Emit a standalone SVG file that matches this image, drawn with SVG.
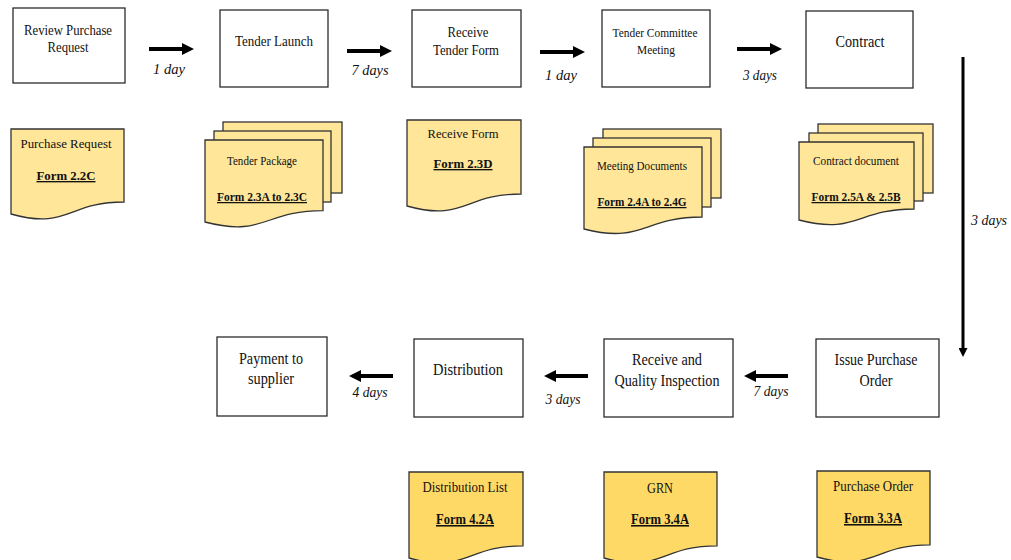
<svg xmlns="http://www.w3.org/2000/svg" width="1011" height="560" viewBox="0 0 1011 560">
  <defs>
    <style>
      .box { fill: #ffffff; stroke: #2b2b2b; stroke-width: 1.3; }
      .doc { fill: #ffe699; stroke: #333333; stroke-width: 1.3; }
      .doc2 { fill: #ffd966; stroke: #333333; stroke-width: 1.3; }
      text { font-family: "Liberation Serif", "Times New Roman", serif; fill: #111111; text-anchor: middle; }
      .s12 { font-size: 12.5px; }
      .s13 { font-size: 13.5px; }
      .s14 { font-size: 14.5px; }
      .s15 { font-size: 15.5px; }
      .s17 { font-size: 17px; }
      .b { font-weight: bold; text-decoration: underline; }
      .lbl { font-size: 15px; font-style: italic; }
      .shaft { stroke: #000000; stroke-width: 4; }
      .vline { stroke: #000000; stroke-width: 3; }
    </style>
    <marker id="head" viewBox="0 0 10 10" refX="0" refY="5" markerWidth="3" markerHeight="3" orient="auto" markerUnits="strokeWidth">
      <path d="M0,0 L10,5 L0,10 Z" fill="#000000"/>
    </marker>
  </defs>

  <!-- Top row: process steps -->
  <g id="review-purchase-request">
    <rect class="box" x="13" y="8" width="112" height="75"/>
    <text class="s14" x="68" y="35" textLength="88" lengthAdjust="spacingAndGlyphs">Review Purchase</text>
    <text class="s14" x="68" y="52" textLength="41" lengthAdjust="spacingAndGlyphs">Request</text>
  </g>
  <g id="tender-launch">
    <rect class="box" x="220" y="10" width="108" height="77"/>
    <text class="s15" x="274" y="46" textLength="78" lengthAdjust="spacingAndGlyphs">Tender Launch</text>
  </g>
  <g id="receive-tender-form">
    <rect class="box" x="412" y="10" width="109" height="77"/>
    <text class="s14" x="468" y="37" textLength="41" lengthAdjust="spacingAndGlyphs">Receive</text>
    <text class="s14" x="466" y="55" textLength="66" lengthAdjust="spacingAndGlyphs">Tender Form</text>
  </g>
  <g id="tender-committee-meeting">
    <rect class="box" x="602" y="10" width="108" height="77"/>
    <text class="s12" x="655" y="37" textLength="85" lengthAdjust="spacingAndGlyphs">Tender Committee</text>
    <text class="s12" x="656" y="54" textLength="38" lengthAdjust="spacingAndGlyphs">Meeting</text>
  </g>
  <g id="contract">
    <rect class="box" x="806" y="11" width="107" height="77"/>
    <text class="s17" x="860" y="47" textLength="49" lengthAdjust="spacingAndGlyphs">Contract</text>
  </g>

  <!-- Top row: documents -->
  <g id="doc-purchase-request">
    <path class="doc" d="M11,129 H124 V202 C67.5,202 67.5,230 11,214 Z"/>
    <text class="s13" x="66" y="148" textLength="91" lengthAdjust="spacingAndGlyphs">Purchase Request</text>
    <text class="s13 b" x="66" y="180" textLength="59" lengthAdjust="spacingAndGlyphs">Form 2.2C</text>
  </g>
  <g id="doc-tender-package">
    <rect class="doc" x="223" y="122" width="119" height="71"/>
    <rect class="doc" x="214" y="131" width="117" height="71"/>
    <path class="doc" d="M205,140 H323 V210.6 C264,210.6 264,237.5 205,222 Z"/>
    <text class="s12" x="262" y="165" textLength="70" lengthAdjust="spacingAndGlyphs">Tender Package</text>
    <text class="s12 b" x="262" y="201" textLength="90" lengthAdjust="spacingAndGlyphs">Form 2.3A to 2.3C</text>
  </g>
  <g id="doc-receive-form">
    <path class="doc" d="M407,120 H521 V194 C464,194 464,222 407,206 Z"/>
    <text class="s13" x="463" y="138" textLength="71" lengthAdjust="spacingAndGlyphs">Receive Form</text>
    <text class="s13 b" x="463" y="168" textLength="59" lengthAdjust="spacingAndGlyphs">Form 2.3D</text>
  </g>
  <g id="doc-meeting-documents">
    <rect class="doc" x="603" y="129" width="118" height="69"/>
    <rect class="doc" x="593" y="138" width="118" height="69"/>
    <path class="doc" d="M584,147 H702 V217 C643,217 643,244 584,229 Z"/>
    <text class="s12" x="642" y="170" textLength="90" lengthAdjust="spacingAndGlyphs">Meeting Documents</text>
    <text class="s12 b" x="642" y="206" textLength="89" lengthAdjust="spacingAndGlyphs">Form 2.4A to 2.4G</text>
  </g>
  <g id="doc-contract-document">
    <rect class="doc" x="818" y="124" width="115" height="69"/>
    <rect class="doc" x="809" y="133" width="114" height="68"/>
    <path class="doc" d="M799,142 H914 V209 C856.5,209 856.5,235 799,220 Z"/>
    <text class="s12" x="856" y="165" textLength="86" lengthAdjust="spacingAndGlyphs">Contract document</text>
    <text class="s12 b" x="856" y="201" textLength="89" lengthAdjust="spacingAndGlyphs">Form 2.5A &amp; 2.5B</text>
  </g>

  <!-- Bottom row: process steps -->
  <g id="payment-to-supplier">
    <rect class="box" x="217" y="337" width="110" height="79"/>
    <text class="s17" x="271" y="364" textLength="64" lengthAdjust="spacingAndGlyphs">Payment to</text>
    <text class="s17" x="271" y="384" textLength="46" lengthAdjust="spacingAndGlyphs">supplier</text>
  </g>
  <g id="distribution">
    <rect class="box" x="414" y="339" width="109" height="78"/>
    <text class="s17" x="468" y="375" textLength="70" lengthAdjust="spacingAndGlyphs">Distribution</text>
  </g>
  <g id="receive-quality-inspection">
    <rect class="box" x="604" y="339" width="129" height="78"/>
    <text class="s17" x="667" y="365" textLength="70" lengthAdjust="spacingAndGlyphs">Receive and</text>
    <text class="s17" x="667" y="386" textLength="105" lengthAdjust="spacingAndGlyphs">Quality Inspection</text>
  </g>
  <g id="issue-purchase-order">
    <rect class="box" x="816" y="339" width="123" height="78"/>
    <text class="s17" x="876" y="365" textLength="83" lengthAdjust="spacingAndGlyphs">Issue Purchase</text>
    <text class="s17" x="876" y="386" textLength="33" lengthAdjust="spacingAndGlyphs">Order</text>
  </g>

  <!-- Bottom row: documents -->
  <g id="doc-distribution-list">
    <path class="doc2" d="M409,472 H523 V545.8 C466,545.8 466,573.9 409,558 Z"/>
    <text class="s15" x="465" y="492" textLength="85" lengthAdjust="spacingAndGlyphs">Distribution List</text>
    <text class="s15 b" x="465" y="524" textLength="58" lengthAdjust="spacingAndGlyphs">Form 4.2A</text>
  </g>
  <g id="doc-grn">
    <path class="doc2" d="M604,472 H717 V545.8 C660.5,545.8 660.5,573.9 604,558 Z"/>
    <text class="s15" x="660" y="493" textLength="26" lengthAdjust="spacingAndGlyphs">GRN</text>
    <text class="s15 b" x="660" y="524" textLength="58" lengthAdjust="spacingAndGlyphs">Form 3.4A</text>
  </g>
  <g id="doc-purchase-order">
    <path class="doc2" d="M817,471 H930 V544.8 C873.5,544.8 873.5,572.9 817,557 Z"/>
    <text class="s15" x="873" y="491" textLength="80" lengthAdjust="spacingAndGlyphs">Purchase Order</text>
    <text class="s15 b" x="873" y="523" textLength="58" lengthAdjust="spacingAndGlyphs">Form 3.3A</text>
  </g>

  <!-- Connectors with durations -->
  <g id="connectors">
    <line class="shaft" x1="149" y1="49" x2="182" y2="49" marker-end="url(#head)"/>
    <text class="lbl" x="169" y="74" textLength="32" lengthAdjust="spacingAndGlyphs">1 day</text>

    <line class="shaft" x1="347" y1="51" x2="380" y2="51" marker-end="url(#head)"/>
    <text class="lbl" x="370" y="75" textLength="37" lengthAdjust="spacingAndGlyphs">7 days</text>

    <line class="shaft" x1="540" y1="52" x2="573" y2="52" marker-end="url(#head)"/>
    <text class="lbl" x="561" y="80" textLength="32" lengthAdjust="spacingAndGlyphs">1 day</text>

    <line class="shaft" x1="737" y1="49" x2="770" y2="49" marker-end="url(#head)"/>
    <text class="lbl" x="760" y="80" textLength="34" lengthAdjust="spacingAndGlyphs">3 days</text>

    <line class="vline" x1="963" y1="57" x2="963" y2="348" marker-end="url(#head)"/>
    <text class="lbl" x="989" y="225" textLength="36" lengthAdjust="spacingAndGlyphs">3 days</text>

    <line class="shaft" x1="788" y1="376" x2="756" y2="376" marker-end="url(#head)"/>
    <text class="lbl" x="771" y="396" textLength="35" lengthAdjust="spacingAndGlyphs">7 days</text>

    <line class="shaft" x1="588" y1="376" x2="556" y2="376" marker-end="url(#head)"/>
    <text class="lbl" x="563" y="404" textLength="35" lengthAdjust="spacingAndGlyphs">3 days</text>

    <line class="shaft" x1="393" y1="376" x2="361" y2="376" marker-end="url(#head)"/>
    <text class="lbl" x="370" y="397" textLength="35" lengthAdjust="spacingAndGlyphs">4 days</text>
  </g>
</svg>
